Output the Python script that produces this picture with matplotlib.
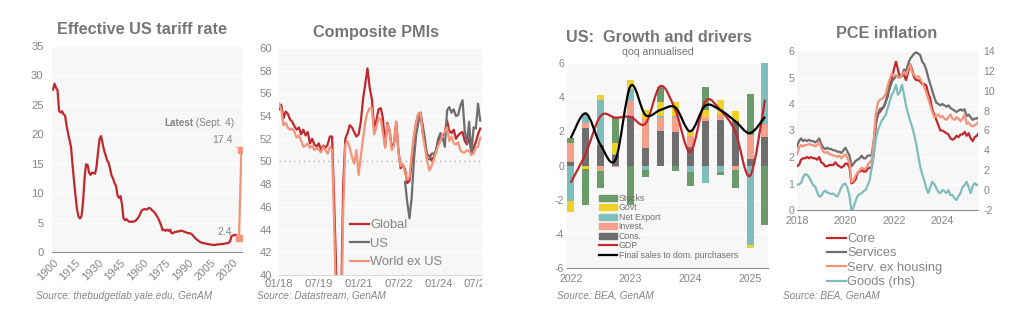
import numpy as np
import matplotlib
matplotlib.use('Agg')
import matplotlib.pyplot as plt
from matplotlib.lines import Line2D
from matplotlib.patches import Patch, PathPatch
from matplotlib.path import Path
from matplotlib.transforms import Bbox, TransformedBbox

plt.rcParams['font.family'] = ['Liberation Sans', 'DejaVu Sans']
plt.rcParams['axes.unicode_minus'] = False

W, H = 1020, 333

TITLE_C = '#767676'
TXT_C = '#858585'
RED = '#c0282d'
SALMON = '#f4937a'
GREY = '#6e6e6e'
TEAL = '#7fbcbc'
GREEN = '#6b9a6b'
YELLOW = '#f0d12a'
BG = '#f7f7f7'

# ---------------- data ----------------
# effective US tariff rate, annual 1900-2024, plus latest reading
tariff_years = np.arange(1900, 2025)
tariff_rate = [
    27.6, 28.6, 27.9, 27.5, 24.0, 23.7, 23.9, 23.4, 23.2, 21.5,
    20.2, 19.0, 17.8, 14.8, 12.0, 9.5, 7.2, 6.0, 5.7, 6.1,
    8.5, 12.5, 14.9, 14.8, 13.5, 13.1, 13.5, 13.4, 13.3, 14.5,
    17.0, 19.2, 19.7, 18.5, 17.3, 16.5, 15.6, 15.2, 14.2, 13.0,
    12.5, 11.7, 11.2, 9.6, 9.2, 9.5, 8.0, 5.7, 5.4, 5.6,
    5.3, 5.1, 5.2, 5.1, 5.2, 5.3, 5.6, 5.9, 6.4, 7.0,
    7.2, 7.3, 7.2, 7.3, 7.5, 7.4, 7.1, 6.9, 6.6, 6.2,
    5.8, 5.2, 4.6, 3.7, 3.8, 3.6, 3.8, 3.6, 3.8, 3.2,
    3.2, 3.4, 3.4, 3.5, 3.5, 3.6, 3.6, 3.5, 3.4, 3.3,
    3.2, 3.2, 3.1, 2.9, 2.6, 2.3, 2.1, 1.9, 1.7, 1.6,
    1.5, 1.5, 1.4, 1.35, 1.3, 1.3, 1.2, 1.2, 1.2, 1.25,
    1.3, 1.3, 1.35, 1.35, 1.4, 1.45, 1.5, 1.55, 1.8, 2.7,
    2.8, 2.9, 2.9, 2.6, 2.4,
]
latest_years = [2024, 2025.6]
latest_rate = [2.4, 17.4]
tariff_ticks = list(range(1900, 2021, 15))

# composite PMIs, monthly Jan 2018 - Aug 2025
pmi_global = [
    54.6, 55.0, 53.8, 54.4, 54.2, 53.7, 53.5, 53.1, 52.8, 53.0, 52.4, 52.8,
    52.3, 52.6, 51.6, 52.0, 51.5, 51.3, 51.6, 51.0, 51.4, 51.2, 51.5, 52.2,
    52.2, 46.1, 39.4, 26.2, 36.3, 47.7, 52.0, 52.5, 53.2, 53.0, 52.6, 52.2,
    52.4, 53.5, 55.5, 56.8, 58.2, 56.5, 55.5, 53.0, 53.6, 54.6, 54.7, 53.8,
    51.3, 53.4, 52.7, 51.2, 51.6, 53.5, 51.0, 49.4, 49.7, 49.3, 48.1, 48.3,
    49.9, 52.1, 53.4, 54.2, 54.3, 52.6, 51.6, 50.6, 50.5, 50.1, 50.4, 51.0,
    51.8, 52.1, 52.3, 52.5, 53.6, 52.7, 52.5, 52.8, 52.0, 52.3, 52.5, 52.6,
    51.8, 51.5, 52.1, 50.8, 51.2, 51.7, 52.4, 52.9,
]
pmi_world_ex_us = [
    55.1, 54.6, 53.2, 53.4, 53.0, 52.8, 52.9, 52.6, 52.1, 52.3, 51.8, 51.3,
    51.4, 51.6, 51.2, 51.4, 51.0, 51.2, 51.0, 50.8, 51.3, 51.0, 50.7, 51.3,
    51.0, 44.0, 36.0, 24.0, 33.0, 45.5, 51.5, 51.8, 51.2, 50.4, 49.8, 51.0,
    48.8, 50.5, 52.0, 53.5, 54.3, 54.7, 54.7, 52.4, 53.0, 53.8, 53.8, 52.5,
    51.2, 53.3, 52.8, 51.0, 51.4, 53.5, 50.8, 49.6, 49.8, 49.0, 48.4, 48.6,
    50.6, 52.2, 53.4, 54.2, 54.3, 52.4, 51.2, 50.1, 49.2, 49.6, 50.2, 50.8,
    51.4, 51.8, 52.4, 52.6, 53.0, 51.8, 52.2, 51.6, 51.5, 51.7, 51.0, 50.8,
    50.8, 51.0, 50.9, 50.6, 50.7, 51.2, 51.3, 52.1,
]
# US series starts Oct 2022 (month index 57)
pmi_us_start = 57
pmi_us = [
    48.2, 46.4, 45.0,
    46.8, 50.1, 52.3, 53.4, 54.3, 53.2, 52.0, 50.2, 50.2, 50.7, 50.7, 50.9,
    52.0, 52.5, 52.1, 51.3, 54.5, 54.8, 54.3, 54.6, 54.0, 54.1, 54.9, 55.4,
    52.7, 51.6, 53.5, 50.6, 53.0, 52.9, 55.1, 53.6,
]
pmi_tick_months = [0, 18, 36, 54, 72, 90]
pmi_tick_labels = ['01/18', '07/19', '01/21', '07/22', '01/24', '07/25']

# US GDP contributions, quarterly 2022Q1 - 2025Q2
gdp_cons = [0.2, 2.2, 1.2, 0.6, 2.9, 1.0, 2.0, 1.95, 1.1, 2.6, 2.65, 2.6, 0.4, 1.65]
gdp_invest = [1.1, 0.3, -0.35, -0.1, 0.9, 1.7, 0.8, 0.9, 0.6, 0.25, 0.3, -0.25, 1.4, 0.8]
gdp_netexp = [-2.1, 0.5, 2.65, 0.1, 0.7, -0.25, 0.1, 0.05, -0.4, -1.05, -0.4, 0.0, -4.65, 4.95]
gdp_govt = [-0.6, -0.2, 0.3, 0.6, 0.5, 0.55, 0.8, 0.8, 0.4, 0.4, 0.9, 0.6, -0.2, 0.0]
gdp_stocks = [0.3, -2.1, -0.95, 1.5, -2.3, -0.4, 0.9, -0.3, -0.8, 1.35, -0.15, -1.05, 2.4, -3.5]
gdp_total = [-1.0, 0.7, 2.9, 2.8, 2.85, 2.45, 4.65, 3.25, 0.8, 3.75, 3.25, 2.0, -0.6, 3.85]
final_sales = [1.6, 3.05, 1.2, 0.35, 4.65, 2.95, 3.25, 3.4, 2.0, 3.5, 3.25, 2.6, 1.9, 2.85]
gdp_year_labels = ['2022', '2023', '2024', '2025']

# PCE inflation, monthly Jan 2018 - Jul 2025
pce_core = [
    1.65, 1.7, 1.9, 1.95, 1.95, 2.0, 1.95, 2.0, 1.95, 1.95, 1.9, 2.0,
    1.8, 1.75, 1.65, 1.65, 1.7, 1.7, 1.7, 1.8, 1.7, 1.65, 1.6, 1.65,
    1.75, 1.75, 1.6, 1.0, 1.05, 1.15, 1.4, 1.45, 1.5, 1.45, 1.45, 1.55,
    1.6, 1.6, 2.1, 3.2, 3.6, 3.7, 3.8, 3.9, 4.1, 4.3, 4.8, 5.0,
    5.3, 5.6, 5.3, 5.0, 5.1, 5.1, 4.9, 5.2, 5.5, 5.3, 5.0, 4.9,
    4.9, 4.85, 4.75, 4.75, 4.7, 4.4, 4.2, 3.8, 3.6, 3.4, 3.2, 3.0,
    3.0, 2.95, 2.9, 2.85, 2.7, 2.65, 2.7, 2.8, 2.75, 2.85, 2.85, 2.95,
    2.8, 2.9, 2.7, 2.6, 2.75, 2.8, 2.9,
]
pce_services = [
    2.4, 2.6, 2.7, 2.6, 2.65, 2.6, 2.65, 2.6, 2.6, 2.55, 2.6, 2.7,
    2.5, 2.35, 2.3, 2.35, 2.3, 2.3, 2.25, 2.25, 2.2, 2.2, 2.15, 2.25,
    2.35, 2.2, 2.05, 1.65, 1.75, 1.85, 1.9, 1.95, 2.05, 1.95, 1.95, 2.05,
    2.05, 2.1, 2.6, 3.3, 3.6, 3.8, 3.85, 3.9, 4.1, 4.4, 4.6, 4.85,
    4.95, 5.05, 5.05, 5.1, 5.05, 5.3, 5.25, 5.5, 5.7, 5.8, 5.9, 5.95,
    5.9, 5.85, 5.6, 5.5, 5.3, 5.0, 4.75, 4.5, 4.25, 4.05, 4.0, 3.95,
    4.0, 3.95, 3.9, 3.95, 3.85, 3.8, 3.75, 3.7, 3.75, 3.8, 3.75, 3.8,
    3.55, 3.6, 3.5, 3.4, 3.45, 3.45, 3.5,
]
pce_serv_ex_housing = [
    2.1, 2.35, 2.45, 2.4, 2.45, 2.45, 2.5, 2.45, 2.45, 2.4, 2.45, 2.55,
    2.35, 2.2, 2.15, 2.2, 2.1, 2.1, 2.05, 2.05, 2.0, 2.05, 1.95, 2.05,
    2.1, 1.95, 1.8, 1.05, 1.1, 1.3, 1.4, 1.5, 1.6, 1.55, 1.55, 1.7,
    1.8, 1.9, 2.6, 3.6, 4.05, 4.15, 4.2, 4.25, 4.4, 4.7, 4.95, 5.15,
    5.05, 5.1, 5.0, 5.0, 5.1, 5.2, 5.1, 5.3, 5.5, 5.2, 5.1, 5.0,
    5.05, 4.95, 4.8, 4.65, 4.45, 4.2, 3.95, 3.7, 3.5, 3.55, 3.6, 3.5,
    3.55, 3.45, 3.4, 3.5, 3.6, 3.45, 3.4, 3.5, 3.45, 3.35, 3.45, 3.6,
    3.25, 3.3, 3.2, 3.15, 3.2, 3.25, 3.35,
]
pce_goods = [
    0.5, 0.6, 0.7, 1.3, 1.6, 1.55, 1.3, 0.9, 0.5, 0.35, -0.2, -0.65,
    -0.6, -0.2, -0.05, -0.25, -0.3, -0.4, -0.35, -0.55, -0.65, -0.2, 0.3, 0.6,
    0.65, 0.2, -0.6, -2.1, -1.7, -1.1, -0.6, -0.4, -0.3, -0.1, 0.0, 0.5,
    1.0, 2.3, 3.6, 5.1, 6.0, 6.5, 7.0, 7.3, 7.6, 8.3, 9.0, 9.6,
    10.0, 10.6, 9.6, 9.9, 10.6, 9.6, 8.5, 7.7, 7.0, 6.4, 5.6, 4.7,
    3.5, 2.4, 1.6, 1.0, 0.2, -0.3, 0.3, 0.85, 0.6, 0.2, -0.2, -0.3,
    0.0, -0.1, -0.3, 0.0, -0.5, -0.5, -0.8, -1.0, -0.6, -0.3, 0.3, 0.5,
    0.85, 0.3, -0.3, 0.4, 0.7, 0.5, 0.6,
]
pce_ticks = [2018, 2020, 2022, 2024]


# ---------------- helpers ----------------
def fx(px):
    return px / W


def fy(py):
    return 1 - py / H


def add_panel(fig, left, top, right, bottom):
    ax = fig.add_axes([fx(left), fy(bottom), (right - left) / W, (bottom - top) / H])
    ax.set_facecolor(BG)
    for s in ['top', 'right', 'left']:
        ax.spines[s].set_visible(False)
    ax.spines['bottom'].set_color('#8c8c8c')
    ax.tick_params(length=0, labelsize=8.1, labelcolor=TXT_C)
    ax.grid(axis='y', color='white', lw=1)
    ax.set_axisbelow(True)
    return ax


def smooth_path(xs, ys):
    # Excel-style smoothed line (Catmull-Rom through the points)
    pts = np.column_stack([xs, ys]).astype(float)
    ext = np.vstack([pts[0], pts, pts[-1]])
    verts = [pts[0]]
    codes = [Path.MOVETO]
    for i in range(len(pts) - 1):
        p0, p1, p2, p3 = ext[i], ext[i + 1], ext[i + 2], ext[i + 3]
        verts += [p1 + (p2 - p0) / 6, p2 - (p3 - p1) / 6, p2]
        codes += [Path.CURVE4] * 3
    return Path(verts, codes)


def title(fig, x, y, text, size=11.7, weight='bold'):
    fig.text(fx(x), fy(y), text, ha='center', va='center', fontsize=size,
             fontweight=weight, color=TITLE_C)


def source(fig, x, text):
    fig.text(fx(x), fy(296), text, ha='left', va='center', fontsize=7.2,
             style='italic', color=TXT_C)


fig = plt.figure(figsize=(W / 100, H / 100), dpi=100)

# ---------------- panel 1: tariff ----------------
ax1 = add_panel(fig, 52, 46, 242, 252)
ax1.plot(tariff_years, tariff_rate, color=RED, lw=1.6)
ax1.plot(latest_years, latest_rate, color=SALMON, lw=1.6, marker='s', ms=4)
ax1.set_xlim(1899.3, 2026)
ax1.set_ylim(0, 35)
ax1.set_yticks(range(0, 36, 5))
ax1.set_xticks(tariff_ticks)
ax1.set_xticklabels([str(t) for t in tariff_ticks], rotation=45, ha='right',
                    rotation_mode='anchor')
ax1.tick_params(axis='x', pad=4)
ax1.tick_params(axis='y', pad=6)

ax1.annotate(f'{latest_rate[1]:.1f}', xy=(latest_years[1], latest_rate[1]),
             xytext=(-6, 7), textcoords='offset points', ha='right', va='center',
             fontsize=7.6, color=TXT_C,
             arrowprops=dict(arrowstyle='-', color=SALMON, lw=0.6, ls=':',
                             shrinkA=0, shrinkB=2))
ax1.annotate(f'{latest_rate[0]:.1f}', xy=(latest_years[0], latest_rate[0]),
             xytext=(-5, 4), textcoords='offset points', ha='right', va='center',
             fontsize=7.6, color=TXT_C,
             arrowprops=dict(arrowstyle='-', color=SALMON, lw=0.6,
                             shrinkA=0, shrinkB=2))
sept = ax1.annotate(' (Sept. 4)', xy=(latest_years[1], latest_rate[1]),
                    xytext=(-5, 19), textcoords='offset points', ha='right',
                    va='center', fontsize=7.2, color=TXT_C)
fig.canvas.draw()
bb = sept.get_window_extent()
ax1.annotate('Latest', xy=(bb.x0, (bb.y0 + bb.y1) / 2), xycoords='figure pixels',
             ha='right', va='center', fontsize=7.2, fontweight='bold', color=TXT_C)

title(fig, 142, 29, 'Effective US tariff rate')
source(fig, 36, 'Source: thebudgetlab.yale.edu, GenAM')

# ---------------- panel 2: PMIs ----------------
ax2 = add_panel(fig, 279, 48, 482, 275)
ax2.spines['bottom'].set_color('#d9d9d9')
m_all = 2018 + np.arange(len(pmi_global)) / 12
m_us = 2018 + (pmi_us_start + np.arange(len(pmi_us))) / 12
ax2.axhline(50, color='#b0b0b0', lw=1, ls=(0, (1, 2.5)), zorder=1)
ax2.plot(m_all, pmi_global, color=RED, lw=1.6, label='Global')
ax2.plot(m_us, pmi_us, color=GREY, lw=1.6, label='US')
ax2.plot(m_all, pmi_world_ex_us, color=SALMON, lw=1.6, label='World ex US')
ax2.set_ylim(40, 60)
ax2.set_yticks(range(40, 61, 2))
ax2.set_xlim(2018, 2018 + 91.8 / 12)
ax2.set_xticks([2018 + m / 12 for m in pmi_tick_months])
ax2.set_xticklabels(pmi_tick_labels)
ax2.tick_params(axis='x', pad=3)
ax2.tick_params(axis='y', pad=5)
clip = TransformedBbox(Bbox([[0, 0], [fx(482), 1]]), fig.transFigure)
for lab in ax2.get_xticklabels():
    lab.set_clip_box(clip)
    lab.set_clip_on(True)
leg2 = ax2.legend(loc='upper left', bbox_to_anchor=(fx(350), fy(219)),
                  bbox_transform=fig.transFigure, frameon=False, fontsize=9.3,
                  handlelength=1.45, handletextpad=0.1, labelspacing=0.5,
                  borderpad=0, borderaxespad=0)
for t in leg2.get_texts():
    t.set_color(TXT_C)

title(fig, 376, 32, 'Composite PMIs')
source(fig, 257, 'Source: Datastream, GenAM')

# ---------------- panel 3: GDP ----------------
ax3 = add_panel(fig, 567, 63, 768, 268)
ax3.tick_params(labelsize=7.6)
q = np.arange(len(gdp_cons))
components = [
    ('Cons.', gdp_cons, GREY),
    ('Invest.', gdp_invest, '#f4a08a'),
    ('Net Export', gdp_netexp, TEAL),
    ('Govt', gdp_govt, YELLOW),
    ('Stocks', gdp_stocks, GREEN),
]
pos_base = np.zeros(len(q))
neg_base = np.zeros(len(q))
for name, vals, col in components:
    v = np.array(vals)
    base = np.where(v >= 0, pos_base, neg_base)
    ax3.bar(q, v, bottom=base, width=0.47, color=col, zorder=2)
    pos_base += np.where(v >= 0, v, 0)
    neg_base += np.where(v < 0, v, 0)
ax3.add_patch(PathPatch(smooth_path(q, gdp_total), fill=False, edgecolor=RED,
                        lw=1.6, zorder=3))
ax3.add_patch(PathPatch(smooth_path(q, final_sales), fill=False, edgecolor='black',
                        lw=1.6, zorder=4))
ax3.set_xlim(-0.25, 13.2)
ax3.set_ylim(-6, 6)
ax3.set_yticks(range(-6, 7, 2))
ax3.set_xticks(q[::4])
ax3.set_xticklabels(gdp_year_labels)
ax3.tick_params(axis='x', pad=4)
ax3.tick_params(axis='y', pad=2)
handles3 = [Patch(color=c) for _, _, c in components[::-1]]
labels3 = [n for n, _, _ in components[::-1]]
handles3 += [Line2D([], [], color=RED, lw=1.6), Line2D([], [], color='black', lw=1.6)]
labels3 += ['GDP', 'Final sales to dom. purchasers']
leg3 = ax3.legend(handles3, labels3, loc='upper left', bbox_to_anchor=(fx(599), fy(194)),
                  bbox_transform=fig.transFigure, frameon=False, fontsize=6.3,
                  handlelength=2.1, handleheight=0.7, handletextpad=0.15,
                  labelspacing=0.05, borderpad=0, borderaxespad=0)
for t in leg3.get_texts():
    t.set_color('#707070')

title(fig, 659, 38, 'US:  Growth and drivers')
title(fig, 658, 52, 'qoq annualised', size=7.6, weight='normal')
source(fig, 557, 'Source: BEA, GenAM')

# ---------------- panel 4: PCE ----------------
ax4 = add_panel(fig, 797, 51, 978, 210)
ax4.tick_params(labelsize=7.6)
mp = 2018 + np.arange(len(pce_core)) / 12
l_core, = ax4.plot(mp, pce_core, color=RED, lw=1.6, label='Core')
l_serv, = ax4.plot(mp, pce_services, color=GREY, lw=1.6, label='Services')
l_sxh, = ax4.plot(mp, pce_serv_ex_housing, color=SALMON, lw=1.6, label='Serv. ex housing')
ax4.set_ylim(0, 6)
ax4.set_yticks(range(0, 7))
ax4.set_xlim(2018, 2025.47)
ax4.set_xticks(pce_ticks)
ax4.set_xticklabels([str(t) for t in pce_ticks])
ax4.tick_params(axis='x', pad=4)
ax4.tick_params(axis='y', pad=2)
ax4r = ax4.twinx()
for s in ax4r.spines.values():
    s.set_visible(False)
l_goods, = ax4r.plot(mp, pce_goods, color=TEAL, lw=1.6, label='Goods (rhs)')
ax4r.set_ylim(-2, 14)
ax4r.set_yticks(range(-2, 15, 2))
ax4r.tick_params(length=0, labelsize=7.6, labelcolor=TXT_C, pad=4)
leg4 = ax4r.legend([l_core, l_serv, l_sxh, l_goods],
                   ['Core', 'Services', 'Serv. ex housing', 'Goods (rhs)'],
                   loc='upper left', bbox_to_anchor=(fx(827), fy(233)),
                   bbox_transform=fig.transFigure, frameon=False, fontsize=9.3,
                   handlelength=1.45, handletextpad=0.1, labelspacing=0.18,
                   borderpad=0, borderaxespad=0)
for t in leg4.get_texts():
    t.set_color(TXT_C)

title(fig, 887, 33, 'PCE inflation')
source(fig, 783, 'Source: BEA, GenAM')

fig.savefig('out.png', dpi=100)
